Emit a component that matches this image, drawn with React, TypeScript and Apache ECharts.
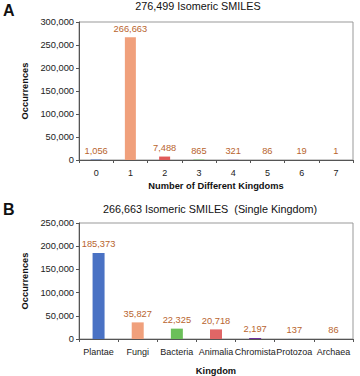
import React, { useEffect, useRef } from "react";
import * as echarts from "echarts";

const kingdomCounts = ["0", "1", "2", "3", "4", "5", "6", "7"];
const kingdomCountValues = [1056, 266663, 7488, 865, 321, 86, 19, 1];
const kingdomCountColors = ["#4a72c4", "#f0a07c", "#e05a5a", "#6bbf59", "#7030a0", "#f0a07c", "#f0a07c", "#f0a07c"];

const kingdoms = ["Plantae", "Fungi", "Bacteria", "Animalia", "Chromista", "Protozoa", "Archaea"];
const kingdomValues = [185373, 35827, 22325, 20718, 2197, 137, 86];
const kingdomColors = ["#4a72c4", "#f0a07c", "#6bbf59", "#e06666", "#7030a0", "#4a72c4", "#f0a07c"];

const titleA = "276,499 Isomeric SMILES";
const titleB = "266,663 Isomeric SMILES  (Single Kingdom)";

const FONT = "Liberation Sans, Arial, sans-serif";
const LABEL_COLOR = "#b8642e";

const fmt = (v: number) => v.toLocaleString("en-US");

export default function App() {
  const ref = useRef<HTMLDivElement>(null);
  useEffect(() => {
    if (!ref.current) return;
    const chart = echarts.init(ref.current, undefined, { renderer: "svg" });
    const yAxisCommon = (max: number) => ({
      type: "value" as const,
      min: 0,
      max,
      interval: 50000,
      name: "Occurrences",
      nameLocation: "middle" as const,
      nameGap: 40,
      nameTextStyle: { fontFamily: FONT, fontSize: 9.3, fontWeight: "bold" as const, color: "#111" },
      axisLine: { show: true, lineStyle: { color: "#555", width: 1 } },
      axisTick: { show: true, length: 3, lineStyle: { color: "#555" } },
      axisLabel: { fontFamily: FONT, fontSize: 9.3, color: "#222", margin: 5, formatter: (v: number) => fmt(v) },
      splitLine: { show: false },
    });
    const xAxisCommon = (data: string[], name: string, nameGap: number) => ({
      type: "category" as const,
      data,
      name,
      nameLocation: "middle" as const,
      nameGap,
      nameTextStyle: { fontFamily: FONT, fontSize: 9.3, fontWeight: "bold" as const, color: "#111" },
      axisLine: { show: true, lineStyle: { color: "#555", width: 1 } },
      axisTick: { show: true, length: 3, lineStyle: { color: "#555" } },
      axisLabel: { fontFamily: FONT, fontSize: 9, color: "#222", margin: 8, interval: 0, hideOverlap: false },
    });
    const labelCfg = {
      show: true,
      position: "top" as const,
      distance: 4,
      fontFamily: FONT,
      fontSize: 9.3,
      color: LABEL_COLOR,
      formatter: (p: any) => fmt(p.value),
    };
    chart.setOption({
      animation: false,
      backgroundColor: "#fff",
      title: [
        { text: titleA, left: 198, top: 0, padding: 0, textAlign: "center", textStyle: { fontFamily: FONT, fontSize: 10.8, fontWeight: "normal", color: "#111" } },
        { text: titleB, left: 210, top: 203, padding: 0, textAlign: "center", textStyle: { fontFamily: FONT, fontSize: 10.8, fontWeight: "normal", color: "#111" } },
      ],
      graphic: [
        { type: "text", left: 3, top: 2, style: { text: "A", fontFamily: FONT, fontSize: 16, fontWeight: "bold", fill: "#111" } },
        { type: "text", left: 3, top: 201, style: { text: "B", fontFamily: FONT, fontSize: 16, fontWeight: "bold", fill: "#111" } },
      ],
      grid: [
        { left: 79, top: 22, width: 274, height: 138, show: true, borderColor: "#999", borderWidth: 1, backgroundColor: "transparent" },
        { left: 79, top: 223, width: 274, height: 118, show: true, borderColor: "#999", borderWidth: 1, backgroundColor: "transparent" },
      ],
      xAxis: [
        { ...xAxisCommon(kingdomCounts, "Number of Different Kingdoms", 21), gridIndex: 0 },
        { ...xAxisCommon(kingdoms, "Kingdom", 27), gridIndex: 1 },
      ],
      yAxis: [
        { ...yAxisCommon(300000), gridIndex: 0 },
        { ...yAxisCommon(250000), gridIndex: 1 },
      ],
      series: [
        {
          type: "bar",
          xAxisIndex: 0,
          yAxisIndex: 0,
          barWidth: 11,
          data: kingdomCountValues.map((v, i) => ({ value: v, itemStyle: { color: kingdomCountColors[i] } })),
          label: labelCfg,
        },
        {
          type: "bar",
          xAxisIndex: 1,
          yAxisIndex: 1,
          barWidth: 12,
          data: kingdomValues.map((v, i) => ({ value: v, itemStyle: { color: kingdomColors[i] } })),
          label: labelCfg,
        },
      ],
    });
    return () => chart.dispose();
  }, []);
  return (
    <div
      ref={ref}
      style={{ position: "fixed", left: 0, top: 0, width: 360, height: 376, background: "#fff" }}
    />
  );
}
